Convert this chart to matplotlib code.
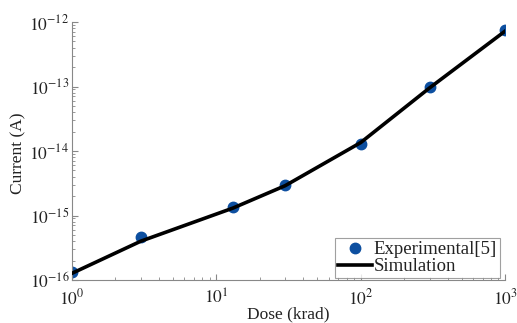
import math
import matplotlib
matplotlib.use("Agg")
import matplotlib.pyplot as plt
from matplotlib.ticker import FixedLocator, FuncFormatter, NullFormatter

plt.rcParams['font.family'] = ['Liberation Serif', 'DejaVu Serif']
plt.rcParams['mathtext.fontset'] = 'stix'

dose_exp = [1, 3, 13, 30, 100, 300, 1000]
current_exp = [1.35e-16, 4.6e-16, 1.36e-15, 3.0e-15, 1.3e-14, 9.8e-14, 7.5e-13]

dose_sim = [1, 3, 13, 30, 100, 300, 1000]
current_sim = [1.27e-16, 4.0e-16, 1.3e-15, 2.9e-15, 1.35e-14, 9.5e-14, 7.2e-13]

x_ticks = [1, 10, 100, 1000]
y_ticks = [1e-16, 1e-15, 1e-14, 1e-13, 1e-12]

W, H = 517, 323
L, R, T, B = 72, 505, 22, 280

fig = plt.figure(figsize=(W/100, H/100), dpi=100)
ax = fig.add_axes([L/W, 1-B/H, (R-L)/W, (B-T)/H])

ax.plot(dose_exp, current_exp, 'o', color='#0d4fa0', markersize=7.5,
        label='Experimental[5]', zorder=2)
ax.plot(dose_sim, current_sim, '-', color='black', linewidth=2.6,
        label='Simulation', zorder=3)

ax.set_xscale('log')
ax.set_yscale('log')
ax.set_xlim(1, 1000)
ax.set_ylim(1e-16, 1e-12)

for s in ['top', 'right']:
    ax.spines[s].set_visible(False)
for s in ['left', 'bottom']:
    ax.spines[s].set_color('#888888')
    ax.spines[s].set_linewidth(0.8)

x_minor = [m * d for d in x_ticks[:-1] for m in range(2, 10)]
y_minor = [m * d for d in y_ticks[:-1] for m in range(2, 10)]
ax.xaxis.set_major_locator(FixedLocator(x_ticks))
ax.yaxis.set_major_locator(FixedLocator(y_ticks))
ax.xaxis.set_minor_locator(FixedLocator(x_minor))
ax.yaxis.set_minor_locator(FixedLocator(y_minor))
ax.xaxis.set_minor_formatter(NullFormatter())
ax.yaxis.set_minor_formatter(NullFormatter())

fmt = FuncFormatter(lambda v, p: r'$10^{%d}$' % int(round(math.log10(v))))
ax.xaxis.set_major_formatter(fmt)
ax.yaxis.set_major_formatter(fmt)

ax.tick_params(which='both', direction='in', color='#888888', labelsize=12.5,
               labelcolor='#222222')
ax.tick_params(which='major', length=4, width=0.8)
ax.tick_params(which='minor', length=2, width=0.6)
ax.tick_params(axis='x', pad=6)
ax.tick_params(axis='y', pad=2)

ax.set_xlabel('Dose (krad)', fontsize=12.5, color='#222222')
ax.set_ylabel('Current (A)', fontsize=12.5, color='#222222')
ax.xaxis.set_label_coords(0.5, (B-306)/(B-T))
ax.yaxis.set_label_coords((26-L)/(R-L), 0.49)

leg = ax.legend(loc='lower right', fontsize=13.5, frameon=True, fancybox=False,
                borderpad=0.15, handlelength=1.8, handletextpad=0.12,
                labelspacing=0.0, borderaxespad=0.0,
                bbox_to_anchor=(1-(R-500)/(R-L), 2/(B-T)))
leg.get_frame().set_edgecolor('#888888')
leg.get_frame().set_linewidth(0.8)
for t in leg.get_texts():
    t.set_color('#222222')

fig.savefig('out.png', dpi=100)
